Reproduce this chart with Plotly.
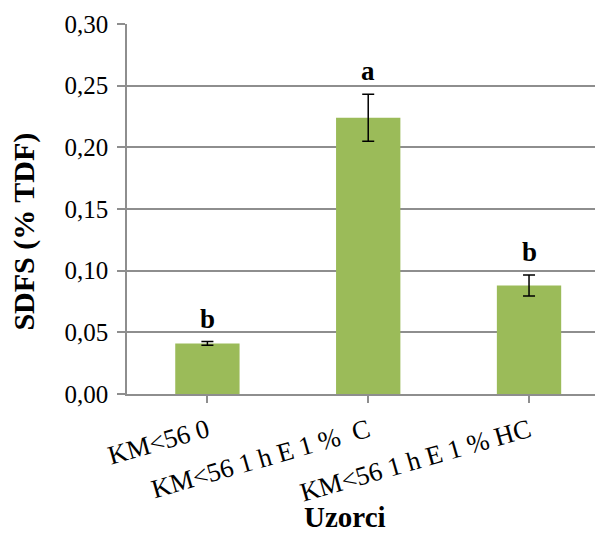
import plotly.graph_objects as go

categories = ["KM<56 0", "KM<56 1 h E 1 %\u00a0 C", "KM<56 1 h E 1 % HC"]
values = [0.041, 0.224, 0.088]
errors = [0.0015, 0.019, 0.0085]
letters = ["b", "a", "b"]
y_ticks = [0.00, 0.05, 0.10, 0.15, 0.20, 0.25, 0.30]

FONT = "'Liberation Serif', 'Times New Roman', Times, 'DejaVu Serif', serif"
GRID = "#8E8E8E"

x_idx = list(range(len(categories)))
tick_text = [c.replace("<", "&lt;") for c in categories]

fig = go.Figure()
fig.add_trace(go.Bar(
    x=x_idx, y=values, width=0.4,
    marker=dict(color="#9BBB59", line=dict(width=0)),
    error_y=dict(type="data", array=errors, visible=True,
                 color="black", thickness=1.5, width=6),
))

for xi, v, e, lt in zip(x_idx, values, errors, letters):
    fig.add_annotation(x=xi, y=v + e, text="<b>%s</b>" % lt, showarrow=False,
                       xanchor="center", yanchor="bottom", yshift=6,
                       font=dict(family=FONT, size=27, color="black"))

fig.add_annotation(x=0.457, y=-0.381, xref="paper", yref="paper",
                   text="<b>Uzorci</b>", showarrow=False,
                   xanchor="center", yanchor="bottom",
                   font=dict(family=FONT, size=29, color="black"))
fig.add_annotation(x=-0.2164, y=0.439, xref="paper", yref="paper",
                   text="<b>SDFS (% TDF)</b>", showarrow=False, textangle=-90,
                   xanchor="center", yanchor="middle",
                   font=dict(family=FONT, size=30, color="black"))

fig.update_layout(
    width=595, height=527,
    margin=dict(l=119, r=0, t=16, b=141),
    paper_bgcolor="white", plot_bgcolor="white",
    separators=",.",
    showlegend=False,
    font=dict(family=FONT, color="black"),
    xaxis=dict(
        range=[-0.5, 2.46],
        tickmode="array", tickvals=x_idx, ticktext=tick_text,
        tickangle=-16, tickson="boundaries",
        ticks="outside", ticklen=7, tickwidth=1.5, tickcolor=GRID,
        showline=True, linecolor=GRID, linewidth=1.5,
        showgrid=False, zeroline=False,
        tickfont=dict(family=FONT, size=26.5, color="black"),
        ticklabelstandoff=2,
    ),
    yaxis=dict(
        range=[0, 0.30],
        tickmode="array", tickvals=y_ticks, tickformat=".2f",
        ticks="outside", ticklen=8, tickwidth=1.5, tickcolor=GRID,
        showline=True, linecolor=GRID, linewidth=1.5,
        showgrid=True, gridcolor=GRID, gridwidth=1.5,
        zeroline=False,
        tickfont=dict(family=FONT, size=25, color="black"),
        ticklabelstandoff=4,
    ),
)

fig.write_html("out.html")
